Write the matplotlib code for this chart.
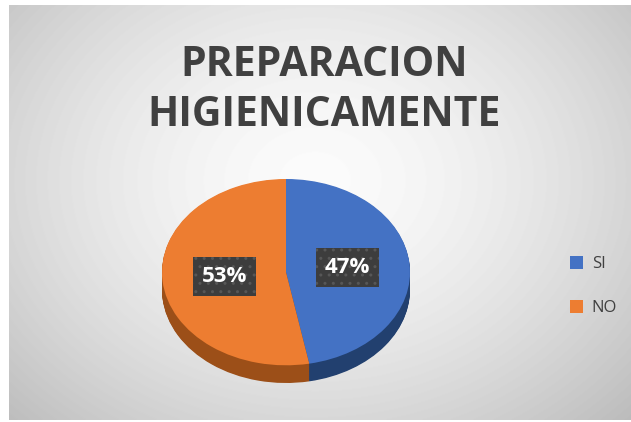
import numpy as np
import matplotlib
matplotlib.use("Agg")
from matplotlib import pyplot as plt

# data
labels = ["SI", "NO"]
values = [47, 53]
title = "PREPARACION\nHIGIENICAMENTE"

top_colors = ["#4472C4", "#ED7D31"]
side_colors = ["#22406f", "#9c4f18"]

W, H = 631, 422
fig = plt.figure(figsize=(W / 100, H / 100), dpi=100)

# radial grey background
bg = fig.add_axes([9 / W, 2 / H, 622 / W, 415 / H])
yy, xx = np.mgrid[0:415, 0:622]
r = np.hypot((xx - 306) / 380.0, (yy - 175) / 300.0)
shade = np.clip(0.985 - 0.2 * r ** 1.6, 0, 1)
bg.imshow(shade, cmap="gray", vmin=0, vmax=1, aspect="auto")
bg.axis("off")

# pie, tilted: stack darker copies below to fake the depth
ax = fig.add_axes([162 / W, 39 / H, 248 / W, 204 / H])
depth = 0.19
for d in np.linspace(depth, 0.0, 25)[:-1]:
  ax.pie(values, colors=side_colors, startangle=90, counterclock=False,
         center=(0, -d), wedgeprops=dict(linewidth=0))
wedges, _, autotexts = ax.pie(values, colors=top_colors, startangle=90, counterclock=False,
                              autopct=lambda p: "%d%%" % round(p), pctdistance=0.5,
                              wedgeprops=dict(linewidth=0))
ax.set_aspect("auto")
ax.set_xlim(-1, 1)
ax.set_ylim(-1 - depth, 1)
ax.axis("off")

for t in autotexts:
  t.set_color("white")
  t.set_fontsize(16)
  t.set_fontweight("bold")
  t.set_family("Open Sans")
  t.set_bbox(dict(boxstyle="square,pad=0.4", facecolor="#3d3d3d",
                  edgecolor="#575757", hatch="..", linewidth=0))

fig.text(0.513, 0.785, title, ha="center", va="center", fontsize=29.5,
         fontweight="bold", color="#404040", family="Open Sans", linespacing=1.3)

fig.legend(wedges, labels, loc="center left", bbox_to_anchor=(555 / W, 1 - 286 / H),
           frameon=False, handlelength=0.8, handleheight=0.8,
           handletextpad=0.5, labelspacing=1.65, labelcolor="#404040",
           prop=dict(family="Open Sans", size=12))

fig.savefig("out.png", dpi=100)
